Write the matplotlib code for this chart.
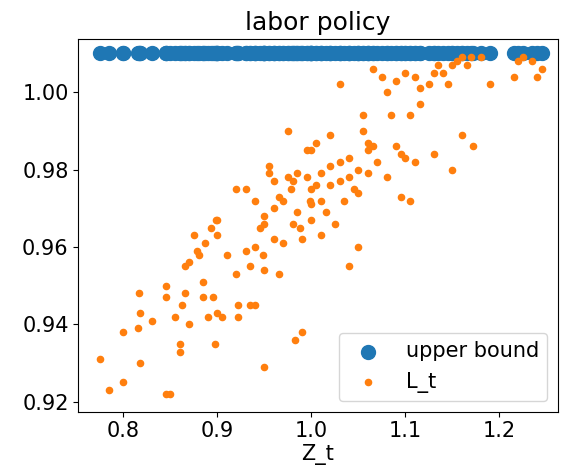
import numpy as np
import matplotlib
matplotlib.use("Agg")
import matplotlib.pyplot as plt

# values (Z_t, L_t)
z_t = [0.775, 0.785, 0.80, 0.80, 0.815, 0.818, 0.818, 0.817, 0.83, 0.845, 0.845, 0.845, 0.85, 0.855,
       0.86, 0.86, 0.862, 0.865, 0.865, 0.87, 0.875, 0.878, 0.88, 0.885, 0.885, 0.887, 0.89, 0.893,
       0.895, 0.897, 0.898, 0.9, 0.9, 0.9, 0.905, 0.91, 0.92, 0.92, 0.922, 0.922, 0.93, 0.93, 0.935,
       0.935, 0.94, 0.94, 0.945, 0.948, 0.95, 0.95, 0.95, 0.95, 0.955, 0.955, 0.96, 0.96, 0.965, 0.965,
       0.97, 0.97, 0.975, 0.975, 0.978, 0.98, 0.98, 0.982, 0.985, 0.985, 0.988, 0.99, 0.99, 0.995,
       0.995, 0.998, 1.0, 1.0, 1.0, 1.005, 1.005, 1.01, 1.01, 1.01, 1.015, 1.02, 1.02, 1.02, 1.025,
       1.03, 1.03, 1.03, 1.035, 1.04, 1.04, 1.04, 1.045, 1.05, 1.05, 1.05, 1.055, 1.055, 1.06, 1.06,
       1.065, 1.065, 1.07, 1.075, 1.08, 1.08, 1.085, 1.09, 1.09, 1.095, 1.095, 1.1, 1.1, 1.105, 1.105,
       1.11, 1.11, 1.115, 1.125, 1.13, 1.13, 1.135, 1.14, 1.145, 1.15, 1.15, 1.155, 1.16, 1.16, 1.165,
       1.17, 1.172, 1.18, 1.19, 1.215, 1.22, 1.225, 1.235, 1.24, 1.245, 1.115, 1.06, 0.94, 0.87, 1.0, 0.96]
l_t = [0.931, 0.923, 0.925, 0.938, 0.939, 0.943, 0.930, 0.948, 0.941, 0.947, 0.950, 0.922, 0.922, 0.942,
       0.935, 0.933, 0.945, 0.955, 0.948, 0.940, 0.963, 0.959, 0.958, 0.951, 0.947, 0.961, 0.942, 0.965,
       0.947, 0.935, 0.967, 0.967, 0.963, 0.943, 0.942, 0.958, 0.975, 0.953, 0.945, 0.942, 0.975, 0.959,
       0.945, 0.955, 0.972, 0.960, 0.965, 0.958, 0.968, 0.966, 0.954, 0.929, 0.981, 0.979, 0.970, 0.962,
       0.973, 0.953, 0.972, 0.961, 0.990, 0.978, 0.975, 0.977, 0.966, 0.936, 0.979, 0.969, 0.965, 0.962,
       0.938, 0.985, 0.978, 0.972, 0.985, 0.971, 0.967, 0.987, 0.976, 0.979, 0.972, 0.963, 0.969, 0.989,
       0.981, 0.976, 0.966, 0.982, 0.977, 1.002, 0.972, 0.983, 0.978, 0.955, 0.975, 0.980, 0.974, 0.960,
       0.994, 0.990, 0.987, 0.985, 0.986, 1.006, 0.982, 1.004, 1.000, 0.978, 0.994, 0.986, 1.003, 0.984,
       0.973, 1.005, 0.983, 0.994, 0.972, 1.004, 0.982, 0.997, 1.002, 1.005, 0.984, 1.007, 1.005, 1.002,
       1.007, 0.980, 1.008, 1.009, 0.989, 1.007, 1.009, 0.986, 1.009, 1.002, 1.004, 1.008, 1.009, 1.008,
       1.004, 1.006, 1.001, 0.979, 0.945, 0.956, 0.975, 0.977]
upper = 1.01

plt.rcParams['font.size'] = 15
fig, ax = plt.subplots(figsize=(5.72, 4.73), dpi=100)
fig.subplots_adjust(left=0.137, right=0.975, top=0.918, bottom=0.13)
ax.scatter(z_t, np.full(len(z_t), upper), s=100, color="tab:blue", label="upper bound")
ax.scatter(z_t, l_t, s=20, color="tab:orange", label="L_t")
ax.set_title("labor policy")
ax.set_xlabel("Z_t", labelpad=2)
ax.set_xlim(0.752, 1.262)
ax.set_ylim(0.9175, 1.0138)
ax.set_yticks([0.92, 0.94, 0.96, 0.98, 1.00])
ax.legend(loc="lower right")
fig.savefig("out.png")
